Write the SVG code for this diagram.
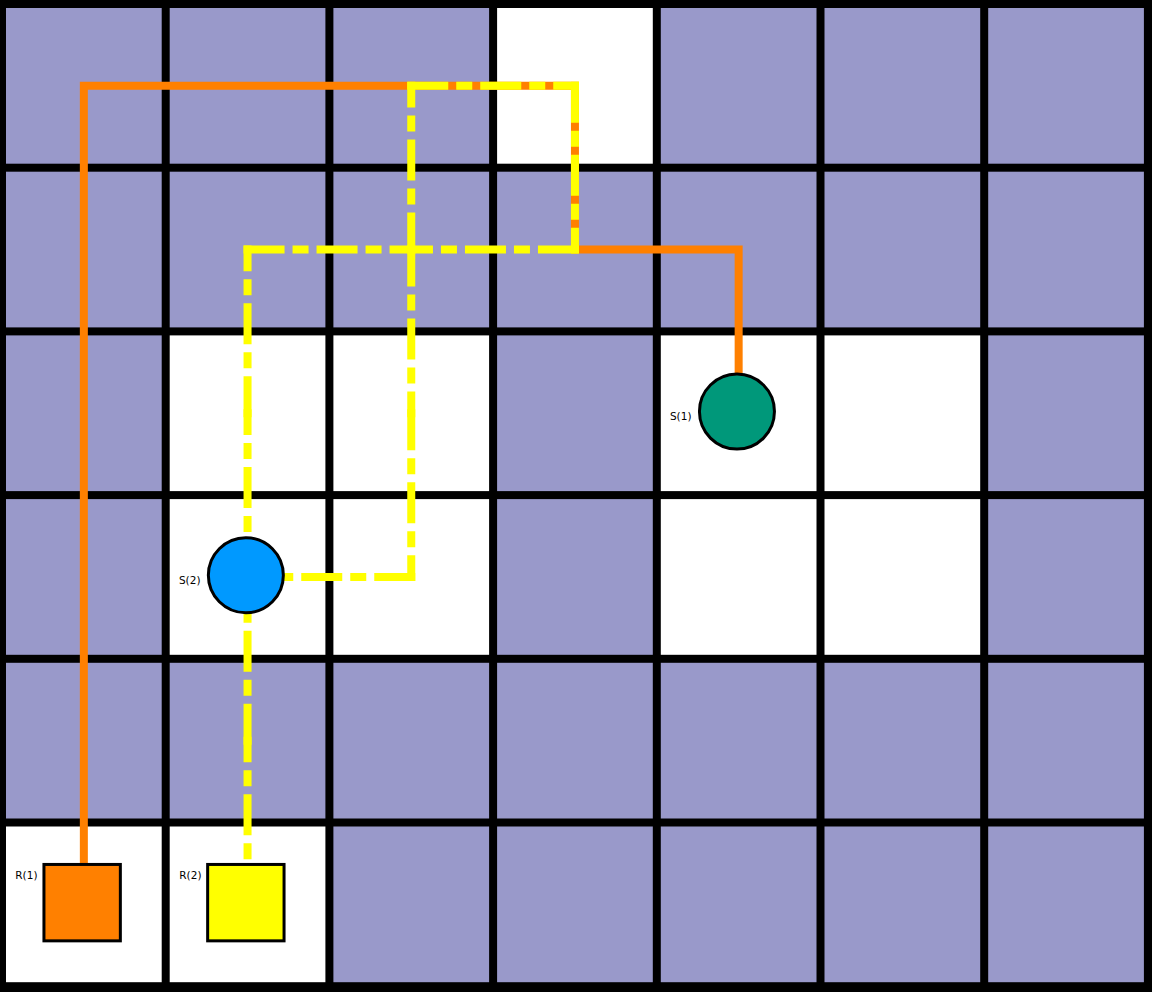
<svg xmlns="http://www.w3.org/2000/svg" width="1152" height="992" viewBox="0 0 1152 992">
<defs>
<style>
.p{fill:#9999CA}
.w{fill:#FFFFFF}
.or{fill:none;stroke:#FF8000;stroke-width:8;stroke-linejoin:miter}
.ye{stroke:#FFFF00;stroke-width:8;stroke-dasharray:33 16 8 16;stroke-linecap:square}
.nd{stroke:#000000;stroke-width:3}
.lb{font-family:"DejaVu Sans",sans-serif;font-size:10.5px;fill:#000000;text-anchor:end}
</style>
</defs>
<rect x="0" y="0" width="1152" height="992" fill="#000000"/>
<g id="grid">
<rect class="p" x="6" y="8" width="155.7" height="155.7"/>
<rect class="p" x="169.7" y="8" width="155.7" height="155.7"/>
<rect class="p" x="333.4" y="8" width="155.7" height="155.7"/>
<rect class="w" x="497.1" y="8" width="155.7" height="155.7"/>
<rect class="p" x="660.8" y="8" width="155.7" height="155.7"/>
<rect class="p" x="824.5" y="8" width="155.7" height="155.7"/>
<rect class="p" x="988.2" y="8" width="155.7" height="155.7"/>

<rect class="p" x="6" y="171.7" width="155.7" height="155.7"/>
<rect class="p" x="169.7" y="171.7" width="155.7" height="155.7"/>
<rect class="p" x="333.4" y="171.7" width="155.7" height="155.7"/>
<rect class="p" x="497.1" y="171.7" width="155.7" height="155.7"/>
<rect class="p" x="660.8" y="171.7" width="155.7" height="155.7"/>
<rect class="p" x="824.5" y="171.7" width="155.7" height="155.7"/>
<rect class="p" x="988.2" y="171.7" width="155.7" height="155.7"/>

<rect class="p" x="6" y="335.4" width="155.7" height="155.7"/>
<rect class="w" x="169.7" y="335.4" width="155.7" height="155.7"/>
<rect class="w" x="333.4" y="335.4" width="155.7" height="155.7"/>
<rect class="p" x="497.1" y="335.4" width="155.7" height="155.7"/>
<rect class="w" x="660.8" y="335.4" width="155.7" height="155.7"/>
<rect class="w" x="824.5" y="335.4" width="155.7" height="155.7"/>
<rect class="p" x="988.2" y="335.4" width="155.7" height="155.7"/>

<rect class="p" x="6" y="499.1" width="155.7" height="155.7"/>
<rect class="w" x="169.7" y="499.1" width="155.7" height="155.7"/>
<rect class="w" x="333.4" y="499.1" width="155.7" height="155.7"/>
<rect class="p" x="497.1" y="499.1" width="155.7" height="155.7"/>
<rect class="w" x="660.8" y="499.1" width="155.7" height="155.7"/>
<rect class="w" x="824.5" y="499.1" width="155.7" height="155.7"/>
<rect class="p" x="988.2" y="499.1" width="155.7" height="155.7"/>

<rect class="p" x="6" y="662.8" width="155.7" height="155.7"/>
<rect class="p" x="169.7" y="662.8" width="155.7" height="155.7"/>
<rect class="p" x="333.4" y="662.8" width="155.7" height="155.7"/>
<rect class="p" x="497.1" y="662.8" width="155.7" height="155.7"/>
<rect class="p" x="660.8" y="662.8" width="155.7" height="155.7"/>
<rect class="p" x="824.5" y="662.8" width="155.7" height="155.7"/>
<rect class="p" x="988.2" y="662.8" width="155.7" height="155.7"/>

<rect class="w" x="6" y="826.5" width="155.7" height="155.7"/>
<rect class="w" x="169.7" y="826.5" width="155.7" height="155.7"/>
<rect class="p" x="333.4" y="826.5" width="155.7" height="155.7"/>
<rect class="p" x="497.1" y="826.5" width="155.7" height="155.7"/>
<rect class="p" x="660.8" y="826.5" width="155.7" height="155.7"/>
<rect class="p" x="824.5" y="826.5" width="155.7" height="155.7"/>
<rect class="p" x="988.2" y="826.5" width="155.7" height="155.7"/>
</g>
<g id="connectors">
<polyline id="route1" class="or" points="83.85,904.35 83.85,85.85 574.95,85.85 574.95,249.55 738.65,249.55 738.65,413.25"/>
<g id="route2">
<line class="ye" x1="247.55" y1="904.35" x2="247.55" y2="740.65"/>
<line class="ye" x1="247.55" y1="740.65" x2="247.55" y2="576.95"/>
<line class="ye" x1="247.55" y1="576.95" x2="247.55" y2="413.25"/>
<line class="ye" x1="247.55" y1="413.25" x2="247.55" y2="249.55"/>
<line class="ye" x1="247.55" y1="249.55" x2="411.25" y2="249.55"/>
<line class="ye" x1="411.25" y1="249.55" x2="411.25" y2="85.85"/>
<line class="ye" x1="411.25" y1="85.85" x2="574.95" y2="85.85"/>
<line class="ye" x1="574.95" y1="85.85" x2="574.95" y2="249.55"/>
<line class="ye" x1="574.95" y1="249.55" x2="411.25" y2="249.55"/>
<line class="ye" x1="411.25" y1="249.55" x2="411.25" y2="413.25"/>
<line class="ye" x1="411.25" y1="413.25" x2="411.25" y2="576.95"/>
<line class="ye" x1="411.25" y1="576.95" x2="247.55" y2="576.95"/>
</g>
</g>
<g id="R1">
<rect class="nd" x="43.95" y="864.45" width="76.4" height="76.4" fill="#FF8000"/>
<text class="lb" x="37.5" y="878.5">R(1)</text>
</g>
<g id="R2">
<rect class="nd" x="207.65" y="864.45" width="76.4" height="76.4" fill="#FFFF00"/>
<text class="lb" x="201.5" y="879">R(2)</text>
</g>
<g id="S1">
<circle class="nd" cx="736.95" cy="411.55" r="37.5" fill="#00987A"/>
<text class="lb" x="691.5" y="419.5">S(1)</text>
</g>
<g id="S2">
<circle class="nd" cx="245.85" cy="575.25" r="37.5" fill="#0099FF"/>
<text class="lb" x="200.5" y="584">S(2)</text>
</g>
</svg>
